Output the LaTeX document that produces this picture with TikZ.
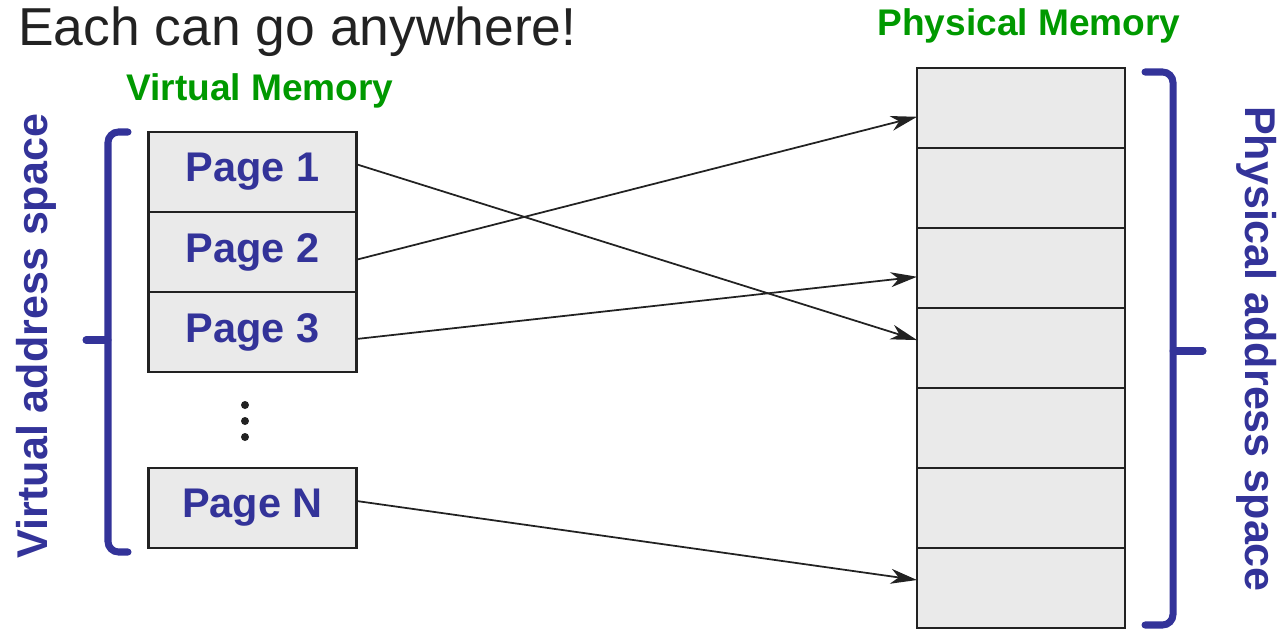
\documentclass[tikz,border=0pt]{standalone}
\usepackage{fontspec}
\setmainfont{Liberation Sans}
\usetikzlibrary{arrows.meta,positioning}
\definecolor{pageblue}{HTML}{333399}
\definecolor{memgreen}{HTML}{009900}
\definecolor{cellgray}{HTML}{EAEAEA}
\definecolor{inkgray}{HTML}{222222}
\newcommand{\vmPageFont}{\fontsize{23.6}{28}\selectfont\bfseries}
\newcommand{\vmSideFont}{\fontsize{24.5}{28}\selectfont\bfseries}
\newcommand{\vmHeadFont}{\fontsize{21.1}{25}\selectfont\bfseries}
\newcommand{\vmTitleFont}{\fontsize{30.4}{35}\selectfont}

\begin{document}
\begin{tikzpicture}[x=0.02cm,y=-0.02cm,>={Stealth[length=15pt,width=8.5pt,inset=4.5pt]},node distance=0pt,
  vpage/.style={rectangle,draw=inkgray,fill=cellgray,line width=1.4pt,minimum width=4.16cm,minimum height=1.6cm,inner sep=0pt,outer sep=0pt,text=pageblue,font=\vmPageFont},
  pframe/.style={vpage},
  brace/.style={draw=pageblue,line width=4pt,line cap=round,rounded corners=6pt}]
  \useasboundingbox (0,0) rectangle (1280,629);
  % titles
  \node[anchor=base west,inner sep=0pt,text=inkgray,font=\vmTitleFont] (title) at (18,45) {Each can go anywhere!};
  \node[anchor=base,inner sep=0pt,text=memgreen,font=\vmHeadFont] (vhead) at (260,100) {Virtual Memory};
  \node[anchor=base,inner sep=0pt,text=memgreen,font=\vmHeadFont] (phead) at (1029,35) {Physical Memory};

  % virtual pages
  \node[vpage] (p1) at (252.5,172) {Page 1};
  \node[vpage] (p2) [below=of p1] {Page 2};
  \node[vpage] (p3) [below=of p2] {Page 3};
  \node[vpage] (pN) at (252.5,508) {Page N};
  \fill[inkgray] (245,405) circle[radius=0.08cm] (245,421) circle[radius=0.08cm] (245,437) circle[radius=0.08cm];

  % physical frames
  \node[pframe] (f1) at (1021,108) {};
  \node[pframe] (f2) [below=of f1] {};
  \node[pframe] (f3) [below=of f2] {};
  \node[pframe] (f4) [below=of f3] {};
  \node[pframe] (f5) [below=of f4] {};
  \node[pframe] (f6) [below=of f5] {};
  \node[pframe] (f7) [below=of f6] {};

  \path[->,inkgray,line width=1pt]
  ([yshift=4.4pt]p1.east) edge ([yshift=4.5pt]f4.west)
  ([yshift=-4.4pt]p2.east) edge ([yshift=-5pt]f1.west)
  ([yshift=-4pt]p3.east) edge ([yshift=-5pt]f3.west)
  ([yshift=4pt]pN.east) edge ([yshift=4.5pt]f7.west)
            ;

  % braces
  \draw[brace] (128,132) -- (108,132) -- (108,552) -- (128,552);
  \draw[brace] (108,340) -- (86,340);
  \draw[brace] (1145,72) -- (1173,72) -- (1173,625) -- (1145,625);
  \draw[brace] (1173,351) -- (1203,351);
  \node[rotate=90,anchor=base,inner sep=0pt,text=pageblue,font=\vmSideFont] (vspace) at (47,336) {Virtual address space};
  \node[rotate=-90,anchor=base,inner sep=0pt,text=pageblue,font=\vmSideFont] (pspace) at (1245,349) {Physical address space};
\end{tikzpicture}
\end{document}
